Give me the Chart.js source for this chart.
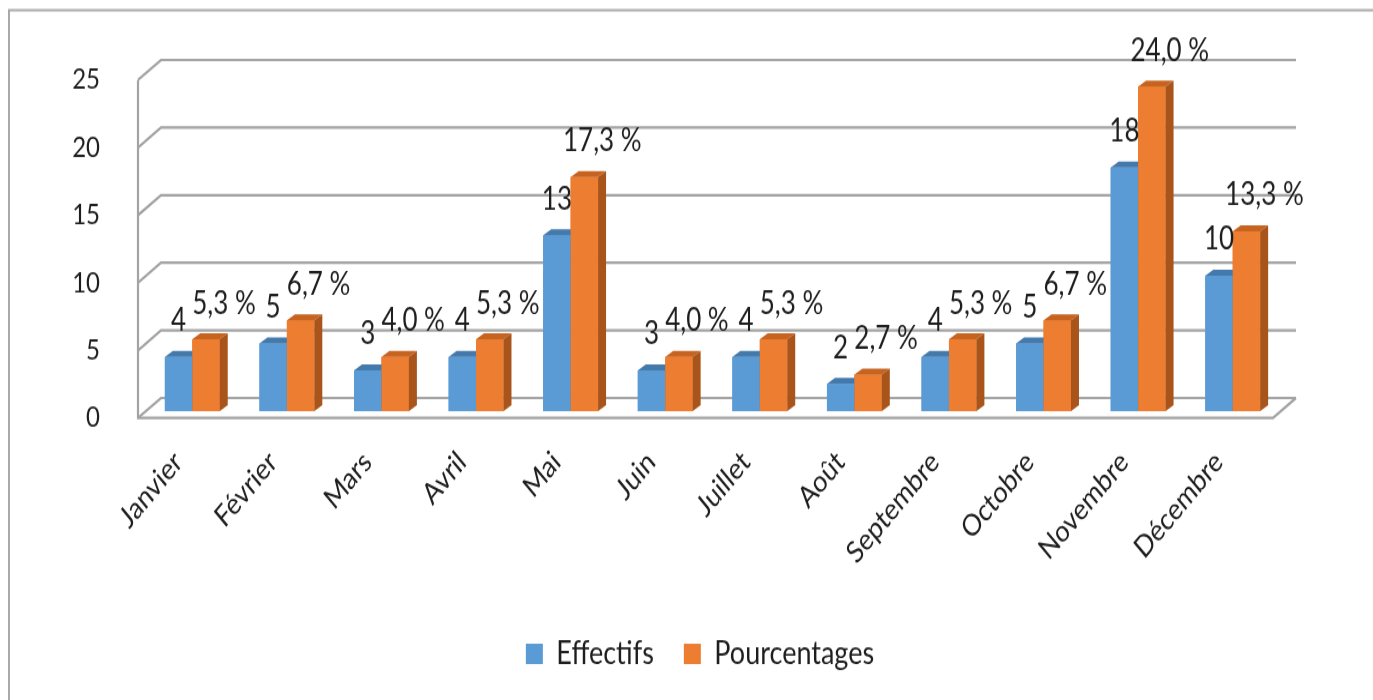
<!DOCTYPE html>
<html>
<head>
<meta charset="utf-8">
<script src="https://cdn.jsdelivr.net/npm/chart.js@4.4.1/dist/chart.umd.min.js"></script>
<style>
  html, body { margin: 0; padding: 0; background: #fff; }
</style>
</head>
<body>
<!-- the original picture is stretched vertically, so the canvas is too -->
<canvas id="chart" width="1373" height="584" style="display:block;width:1373px;height:700px"></canvas>
<script>
// données
const mois = ['Janvier', 'Février', 'Mars', 'Avril', 'Mai', 'Juin', 'Juillet', 'Août', 'Septembre', 'Octobre', 'Novembre', 'Décembre'];
const effectifs = [4, 5, 3, 4, 13, 3, 4, 2, 4, 5, 18, 10];
const pourcentages = [5.3, 6.7, 4.0, 5.3, 17.3, 4.0, 5.3, 2.7, 5.3, 6.7, 24.0, 13.3];
const yTicks = [0, 5, 10, 15, 20, 25];

// faux 3D
const WALL_DX = 23, WALL_DY = 16.7;   // profondeur des murs
const BAR_DX = 7, BAR_DY = 5.8;       // plan des barres
const FACE_DX = 8, FACE_DY = 5;       // épaisseur des barres
const faces = [
    { top: '#4479ab', side: '#3b6b97' },
    { top: '#c6631f', side: '#a8541b' }
];
const FONT = 'Lato';
const TEXT = '#1e1e1e';
const BOTTOM_PAD = 15;

function poly(ctx, pts, color) {
    ctx.beginPath();
    ctx.moveTo(pts[0][0], pts[0][1]);
    for (let i = 1; i < pts.length; i++) ctx.lineTo(pts[i][0], pts[i][1]);
    ctx.closePath();
    ctx.fillStyle = color;
    ctx.fill();
}

const chart3d = {
    id: 'chart3d',
    beforeDraw(chart) {
        const ctx = chart.ctx;
        ctx.save();
        ctx.strokeStyle = '#a9a9a9';
        ctx.lineWidth = 2;
        ctx.beginPath();
        ctx.moveTo(chart.width, 8.5);
        ctx.lineTo(9, 8.5);
        ctx.lineTo(9, chart.height);
        ctx.stroke();
        ctx.restore();
    },
    beforeDatasetsDraw(chart) {
        const { ctx, chartArea: a, scales: { y } } = chart;
        ctx.save();
        ctx.strokeStyle = '#a3a3a3';
        ctx.lineWidth = 2.2;
        yTicks.forEach(v => {
            const py = y.getPixelForValue(v);
            ctx.beginPath();
            ctx.moveTo(a.left, py);
            ctx.lineTo(a.left + WALL_DX, py - WALL_DY);
            ctx.lineTo(a.right + WALL_DX, py - WALL_DY);
            ctx.stroke();
        });
        const p0 = y.getPixelForValue(0);
        ctx.beginPath();
        ctx.moveTo(a.left, y.getPixelForValue(yTicks[yTicks.length - 1]));
        ctx.lineTo(a.left, p0);
        ctx.lineTo(a.right, p0);
        ctx.lineTo(a.right + WALL_DX, p0 - WALL_DY);
        ctx.stroke();
        ctx.restore();
    },
    beforeDatasetDraw(chart) {
        chart.ctx.save();
        chart.ctx.translate(BAR_DX, -BAR_DY);
    },
    afterDatasetDraw(chart) {
        chart.ctx.restore();
    },
    afterDatasetsDraw(chart) {
        const ctx = chart.ctx;
        const metas = chart.data.datasets.map((d, i) => chart.getDatasetMeta(i));
        ctx.save();
        ctx.translate(BAR_DX, -BAR_DY);
        // redraw bar by bar, left to right, with top and side faces
        mois.forEach((m, j) => {
            metas.forEach((meta, i) => {
                const bar = meta.data[j];
                bar.draw(ctx);
                const { x, y, base, width } = bar.getProps(['x', 'y', 'base', 'width'], true);
                const x0 = x - width / 2, x1 = x + width / 2;
                poly(ctx, [[x0, y], [x1, y], [x1 + FACE_DX, y - FACE_DY], [x0 + FACE_DX, y - FACE_DY]], faces[i].top);
                poly(ctx, [[x1, y], [x1 + FACE_DX, y - FACE_DY], [x1 + FACE_DX, base - FACE_DY], [x1, base]], faces[i].side);
            });
        });
        // étiquettes
        ctx.fillStyle = TEXT;
        ctx.font = '26px ' + FONT;
        ctx.textAlign = 'center';
        ctx.textBaseline = 'middle';
        metas[0].data.forEach((bar, j) => {
            ctx.fillText(String(effectifs[j]), bar.x, bar.y - 30);
        });
        metas[1].data.forEach((bar, j) => {
            ctx.fillText(pourcentages[j].toFixed(1).replace('.', ',') + ' %', bar.x + 18, bar.y - 30);
        });
        ctx.restore();
    }
};

new Chart(document.getElementById('chart'), {
    type: 'bar',
    data: {
        labels: mois,
        datasets: [{
            label: 'Effectifs',
            data: effectifs,
            backgroundColor: '#5b9bd5',
            borderWidth: 0
        }, {
            label: 'Pourcentages',
            data: pourcentages,
            backgroundColor: '#ed7d31',
            borderWidth: 0
        }]
    },
    options: {
        responsive: false,
        animation: false,
        devicePixelRatio: 1,
        categoryPercentage: 0.58,
        barPercentage: 1,
        layout: { padding: { top: 66.7, left: 27, right: 0, bottom: BOTTOM_PAD } },
        scales: {
            x: {
                grid: { display: false },
                border: { display: false },
                ticks: {
                    autoSkip: false,
                    maxRotation: 45,
                    minRotation: 45,
                    padding: 14,
                    labelOffset: -7,
                    color: TEXT,
                    font: { family: FONT, size: 25 }
                },
                afterFit(scale) {
                    const c = scale.chart;
                    const legendH = c.legend ? c.legend.height : 84;
                    scale.height = c.height - BOTTOM_PAD - legendH - 348.7;
                    scale.paddingRight = 100;
                }
            },
            y: {
                min: 0,
                max: 25,
                grid: { display: false },
                border: { display: false },
                ticks: {
                    stepSize: 5,
                    padding: 30,
                    color: TEXT,
                    font: { family: FONT, size: 24 }
                },
                afterFit(scale) {
                    scale.width = 111;
                }
            }
        },
        plugins: {
            legend: {
                position: 'bottom',
                labels: {
                    boxWidth: 17,
                    boxHeight: 17,
                    padding: 30,
                    color: TEXT,
                    font: { family: FONT, size: 27 }
                }
            },
            tooltip: { enabled: false }
        }
    },
    plugins: [chart3d]
});
</script>
</body>
</html>
